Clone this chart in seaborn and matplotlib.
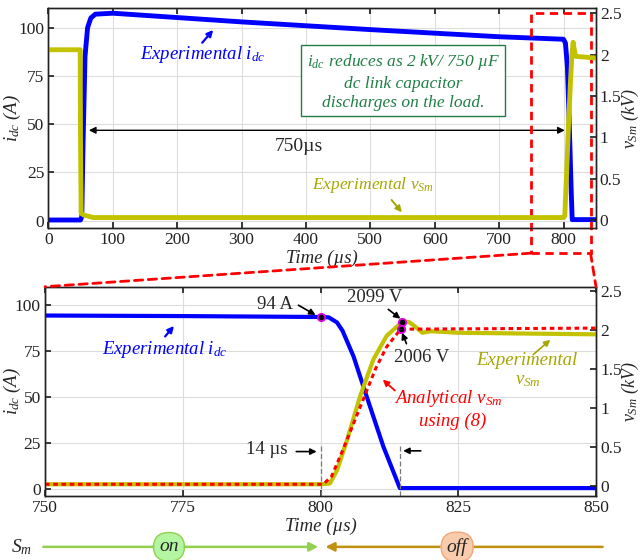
import matplotlib
matplotlib.use("Agg")
import matplotlib.pyplot as plt
import matplotlib.transforms as mtrans
from matplotlib.patches import ConnectionPatch, Rectangle
import seaborn as sns

# ---------------- data ----------------
# top panel: full pulse
top_t_idc = [0, 50, 52, 54, 57, 61, 66, 73, 100, 300, 500, 700, 800, 803, 806, 808, 810, 812, 813.5, 850]
top_idc = [0.3, 0.3, 2, 40, 85, 100, 105, 107, 107.5, 103, 99, 95.3, 94, 92, 80, 60, 38, 15, 0.5, 0.5]
top_t_vsm = [0, 49.5, 50, 51, 55, 70, 800, 802, 805, 808, 811, 813, 815, 817, 819, 850]
top_vsm = [2.06, 2.06, 1.0, 0.08, 0.06, 0.03, 0.03, 0.05, 0.6, 1.2, 1.7, 2.0, 2.15, 2.05, 1.98, 1.96]

# bottom panel: zoom 750-850 us
bot_t_idc = [750, 775, 800, 801.5, 803, 804, 806, 808.4, 811.4, 814.4, 816, 850]
bot_idc = [94.3, 94.0, 93.5, 93.3, 90.5, 86, 72, 50, 23, 0.3, 0.3, 0.3]
bot_t_vsm = [750, 800, 801.7, 803, 804.7, 807.2, 809.6, 812, 814.8, 816, 817, 818.5, 820, 825, 850]
bot_vsm = [0.02, 0.02, 0.03, 0.2, 0.56, 1.15, 1.62, 1.92, 2.099, 2.1, 2.05, 1.96, 1.98, 1.96, 1.94]
bot_t_ana = [750, 800.5, 802, 804, 806, 808, 810, 812, 814.55, 850]
bot_vana = [0.02, 0.02, 0.12, 0.45, 0.8, 1.15, 1.5, 1.78, 2.006, 2.02]

pt_i_t, pt_i_v = [800], [93.5]
pt_v_t, pt_v_v = [814.8], [2.099]
pt_a_t, pt_a_v = [814.55], [2.006]

top_xticks = [0, 100, 200, 300, 400, 500, 600, 700, 800]
bot_xticks = [750, 775, 800, 825, 850]
i_ticks = [0, 25, 50, 75, 100]
v_ticks = [0, 0.5, 1, 1.5, 2, 2.5]
v_ticklabels = ["0", "0.5", "1", "1.5", "2", "2.5"]

# ---------------- style ----------------
sns.set_theme(style="ticks")
plt.rcParams.update({
    "font.family": ["Liberation Serif", "DejaVu Serif"],
    "mathtext.fontset": "custom",
    "mathtext.rm": "Liberation Serif",
    "mathtext.it": "Liberation Serif:italic",
    "mathtext.bf": "Liberation Serif:bold",
    "axes.edgecolor": "#222222",
    "axes.linewidth": 1.0,
    "xtick.color": "#222222",
    "ytick.color": "#222222",
})

BLUE = "#0000ff"
YEL = "#c2c200"
YEL_T = "#a6a600"
RED = "#ff0000"
GREEN_T = "#1f7f45"

W, H = 641, 560
fig = plt.figure(figsize=(W / 100, H / 100), dpi=100)
ax1 = fig.add_axes([48.3 / W, 1 - 228.3 / H, (595.7 - 48.3) / W, 220.3 / H])
ax3 = fig.add_axes([45 / W, 1 - 496 / H, 551 / W, 209.3 / H])
ax2 = ax1.twinx()
ax4 = ax3.twinx()

TICK_FS = 12.5
LAB_FS = 13.5


def style_axes(a, b, xlim, xticks, ylim_l, ylim_r, lx, rx):
    a.set_xlim(*xlim)
    a.set_ylim(*ylim_l)
    b.set_ylim(*ylim_r)
    a.set_xticks(xticks)
    a.set_yticks(i_ticks)
    b.set_yticks(v_ticks)
    b.set_yticklabels(v_ticklabels)
    a.grid(True, color="#dddddd", lw=0.8)
    b.grid(False)
    a.tick_params(direction="in", length=4, labelsize=TICK_FS, top=True, pad=3)
    b.tick_params(direction="in", length=4, labelsize=TICK_FS, pad=3)
    a.set_ylabel("$i_{dc}$ (A)", fontsize=LAB_FS, style="italic")
    b.set_ylabel("$v_{Sm}$ (kV)", fontsize=13, style="italic")
    a.yaxis.set_label_coords(lx, 0.5)
    b.yaxis.set_label_coords(rx, 0.5)
    a.set_xlabel("Time (µs)", fontsize=LAB_FS, style="italic", labelpad=1)
    for s in b.spines.values():
        s.set_color("#222222")


style_axes(ax1, ax2, (0, 850), top_xticks, (-4, 110.2), (-0.1, 2.565), -0.046, 1.044)
style_axes(ax3, ax4, (750, 850), bot_xticks, (-4, 110), (-0.13, 2.55), -0.040, 1.043)

# ---------------- lines ----------------
sns.lineplot(x=top_t_idc, y=top_idc, ax=ax1, color=BLUE, lw=3.5, estimator=None, sort=False)
sns.lineplot(x=top_t_vsm, y=top_vsm, ax=ax2, color=YEL, lw=3.5, estimator=None, sort=False)

sns.lineplot(x=bot_t_idc, y=bot_idc, ax=ax3, color=BLUE, lw=3.0, estimator=None, sort=False)
sns.lineplot(x=bot_t_vsm, y=bot_vsm, ax=ax4, color=YEL, lw=3.0, estimator=None, sort=False)
sns.lineplot(x=bot_t_ana, y=bot_vana, ax=ax4, color=RED, lw=2.2, estimator=None, sort=False,
             linestyle=(0, (1.5, 1.2)))

sns.scatterplot(x=pt_i_t, y=pt_i_v, ax=ax3, color="black", edgecolor="#e000e0", s=28, linewidth=1.3, zorder=5)
sns.scatterplot(x=pt_v_t, y=pt_v_v, ax=ax4, color="black", edgecolor="#e000e0", s=28, linewidth=1.3, zorder=5)
sns.scatterplot(x=pt_a_t, y=pt_a_v, ax=ax4, color="black", edgecolor="#e000e0", s=28, linewidth=1.3, zorder=5)


def arrow(ax, tail, head, color="black", lw=1.2, style="-|>", ms=9):
    ax.annotate("", xy=head, xytext=tail,
                arrowprops=dict(arrowstyle=style, color=color, lw=lw, mutation_scale=ms,
                                shrinkA=0, shrinkB=0), annotation_clip=False)


ANN_FS = 13.5

# ---------------- top annotations ----------------
ax1.text(240, 86, "Experimental $i_{dc}$", color=BLUE, fontsize=ANN_FS, style="italic",
         ha="center", va="center")
arrow(ax1, (239, 92.2), (256, 98.8), BLUE, lw=1.6)

ax1.text(551, 72, "$i_{dc}$ reduces as 2 kV/ 750 µF\ndc link capacitor\ndischarges on the load.",
         color=GREEN_T, fontsize=12.5, style="italic", ha="center", va="center", linespacing=1.3,
         bbox=dict(boxstyle="square,pad=0.3", fc="white", ec=GREEN_T, lw=1.0))

arrow(ax1, (63, 46.8), (802, 46.8), "black", lw=1.0, style="<|-|>", ms=10)
ax1.text(389, 38.5, "750µs", fontsize=14, ha="center", va="center")

ax1.text(504, 18.5, "Experimental $v_{Sm}$", color=YEL_T, fontsize=12.5, style="italic",
         ha="center", va="center")
arrow(ax1, (533, 10.7), (549, 4.3), YEL_T, lw=1.4)

# red dashed zoom box
blend1 = mtrans.blended_transform_factory(ax1.transData, ax1.transAxes)
ax1.add_patch(Rectangle((749, -0.113), 93, 0.976 + 0.113, transform=blend1, fill=False,
                        ec=RED, lw=2.0, ls=(0, (3, 2)), clip_on=False, zorder=6))
for xa, xb in [(749, 0), (842, 1)]:
    con = ConnectionPatch(xyA=(xa, -0.113), coordsA=blend1, xyB=(xb, 1), coordsB=ax3.transAxes,
                          color=RED, lw=2.0, ls=(0, (3, 2)))
    fig.add_artist(con)

# ---------------- bottom annotations ----------------
ax3.text(771.7, 75.7, "Experimental $i_{dc}$", color=BLUE, fontsize=ANN_FS, style="italic",
         ha="center", va="center")
arrow(ax3, (771.8, 82.9), (773.4, 88.6), BLUE, lw=1.6)

ax3.text(791.7, 100.3, "94 A", fontsize=ANN_FS, ha="center", va="center")
arrow(ax3, (796, 99.9), (799.1, 94.6))

ax4.text(809.9, 2.41, "2099 V", fontsize=ANN_FS, ha="center", va="center")
arrow(ax4, (812.3, 2.26), (814.5, 2.14))
ax4.text(818.4, 1.64, "2006 V", fontsize=ANN_FS, ha="center", va="center")
arrow(ax4, (815.6, 1.82), (814.8, 1.96))

ax4.text(837.5, 1.61, "Experimental", color=YEL_T, fontsize=ANN_FS, style="italic",
         ha="center", va="center")
ax4.text(837.6, 1.35, "$v_{Sm}$", color=YEL_T, fontsize=ANN_FS, ha="center", va="center")
arrow(ax4, (838.6, 1.68), (841.7, 1.87), YEL_T, lw=1.2)

ax4.text(823.2, 1.12, "Analytical $v_{Sm}$", color=RED, fontsize=ANN_FS, style="italic",
         ha="center", va="center")
ax4.text(824.0, 0.82, "using (8)", color=RED, fontsize=ANN_FS, style="italic",
         ha="center", va="center")
arrow(ax4, (813.5, 1.22), (811.3, 1.36), RED, lw=1.3)

ax3.text(790.3, 21.1, "14 µs", fontsize=ANN_FS, ha="center", va="center")
arrow(ax3, (795.6, 20.2), (799.3, 20.2))
arrow(ax3, (818.2, 20.6), (815.0, 20.6))
for xv in [800, 814.5]:
    ax3.plot([xv, xv], [-4, 24], color="#777777", lw=0.9, ls=(0, (4, 2)))

# ---------------- S_m switching row ----------------
blend3 = mtrans.blended_transform_factory(ax3.transData, ax3.transAxes)
ys = -0.243
ax3.text(745.8, ys, "$S_m$", transform=blend3, fontsize=14, ha="center", va="center")
ax3.annotate("", xy=(799.6, ys), xytext=(749.7, ys), xycoords=blend3, textcoords=blend3,
             arrowprops=dict(arrowstyle="-|>", color="#92d050", lw=1.8, mutation_scale=13,
                             shrinkA=0, shrinkB=0), annotation_clip=False)
ax3.annotate("", xy=(800.9, ys), xytext=(851.2, ys), xycoords=blend3, textcoords=blend3,
             arrowprops=dict(arrowstyle="-|>", color="#c09010", lw=1.8, mutation_scale=13,
                             shrinkA=0, shrinkB=0), annotation_clip=False)
ax3.text(772.5, ys, "on", transform=blend3, fontsize=14, style="italic", ha="center", va="center",
         bbox=dict(boxstyle="round,pad=0.3,rounding_size=0.8", fc="#b4f5a2", ec="#92d050", lw=1.0))
ax3.text(824.8, ys, "off", transform=blend3, fontsize=14, style="italic", ha="center", va="center",
         bbox=dict(boxstyle="round,pad=0.3,rounding_size=0.8", fc="#f8cbad", ec="#f0a878", lw=1.0))

fig.savefig("out.png", dpi=100)
